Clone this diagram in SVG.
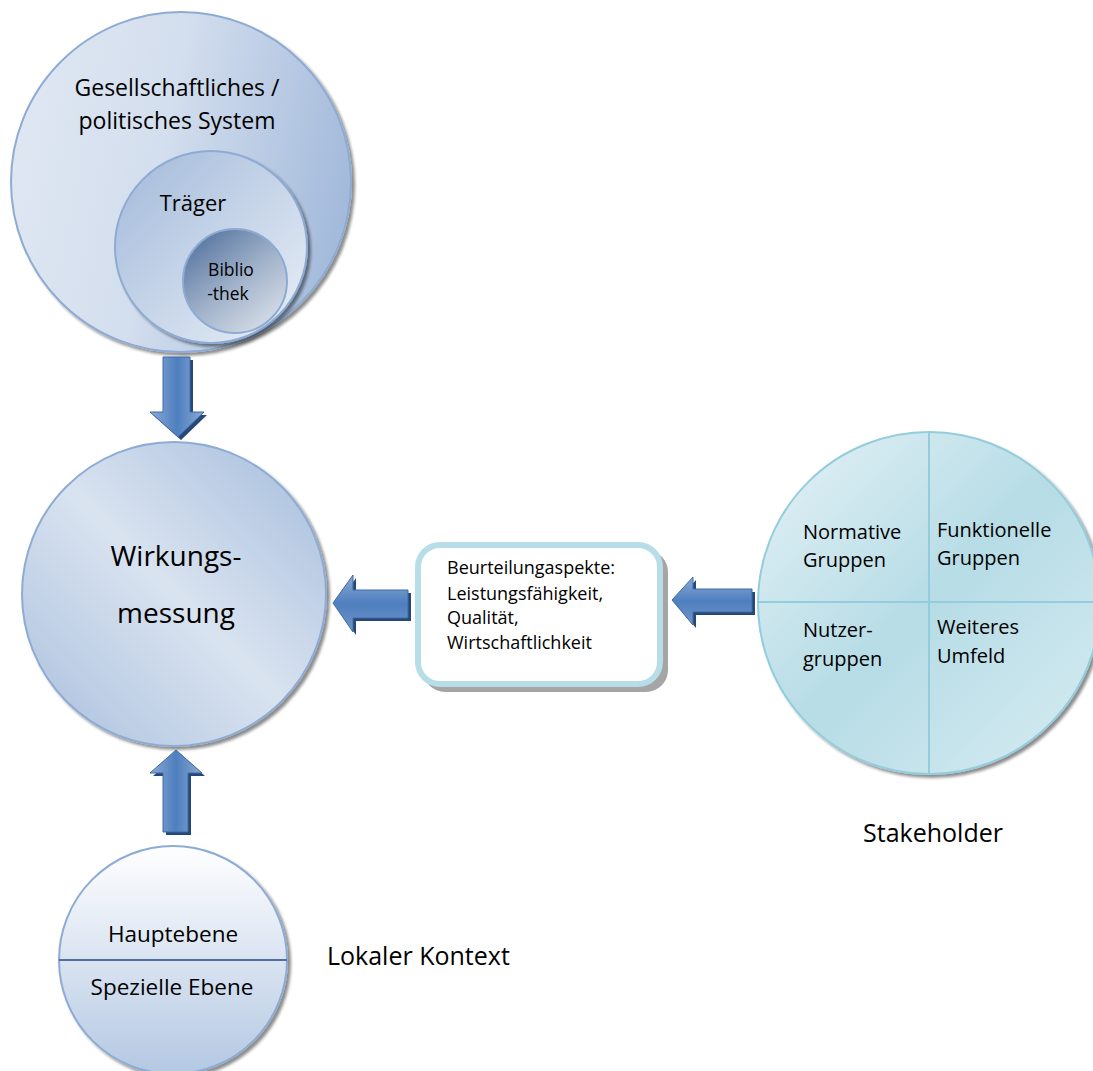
<svg xmlns="http://www.w3.org/2000/svg" width="1093" height="1071" viewBox="0 0 1093 1071">
<defs>
<linearGradient id="gBig" x1="0" y1="0.3" x2="1" y2="0.5">
<stop offset="0" stop-color="#dfe7f2"/><stop offset="0.45" stop-color="#d3deee"/><stop offset="1" stop-color="#a3badb"/>
</linearGradient>
<linearGradient id="gTr" x1="0" y1="0" x2="1" y2="1">
<stop offset="0" stop-color="#a2b9da"/><stop offset="1" stop-color="#eaf0f7"/>
</linearGradient>
<linearGradient id="gBib" x1="0.1" y1="0" x2="0.9" y2="1">
<stop offset="0" stop-color="#4f6e9c"/><stop offset="0.5" stop-color="#9eb0c8"/><stop offset="1" stop-color="#dfe4ec"/>
</linearGradient>
<linearGradient id="gWir" x1="1" y1="0" x2="0" y2="1">
<stop offset="0" stop-color="#a4bcdc"/><stop offset="0.5" stop-color="#d9e3f0"/><stop offset="1" stop-color="#a9bfdd"/>
</linearGradient>
<linearGradient id="gLok" x1="0" y1="0" x2="0" y2="1">
<stop offset="0" stop-color="#ffffff"/><stop offset="1" stop-color="#b4c8e3"/>
</linearGradient>
<linearGradient id="gSt" x1="0" y1="0" x2="1" y2="1">
<stop offset="0" stop-color="#e6f2f6"/><stop offset="0.5" stop-color="#b6dce6"/><stop offset="1" stop-color="#d8ecf2"/>
</linearGradient>
<linearGradient id="gArV" x1="0" y1="0" x2="1" y2="0">
<stop offset="0" stop-color="#8aaad4"/><stop offset="0.5" stop-color="#4f7fbf"/><stop offset="1" stop-color="#8aaad4"/>
</linearGradient>
<linearGradient id="gArH" x1="0" y1="0" x2="0" y2="1">
<stop offset="0" stop-color="#8aaad4"/><stop offset="0.5" stop-color="#4f7fbf"/><stop offset="1" stop-color="#6f94c8"/>
</linearGradient>
<filter id="sh" x="-10%" y="-10%" width="130%" height="130%">
<feGaussianBlur in="SourceAlpha" stdDeviation="1.5"/>
<feOffset dx="3" dy="3" result="b"/>
<feComponentTransfer><feFuncA type="linear" slope="0.45"/></feComponentTransfer>
<feMerge><feMergeNode/><feMergeNode in="SourceGraphic"/></feMerge>
</filter>
</defs>
<style>
text{font-family:"Open Sans","Noto Sans","Liberation Sans",sans-serif;fill:#000}
.c{stroke:#8dabd3;stroke-width:2}
.arr-sh{fill:#274877}
</style>
<rect width="1093" height="1071" fill="#fff"/>

<g id="system">
<circle cx="181" cy="182" r="170" fill="url(#gBig)" class="c" filter="url(#sh)"/>
<text x="177" y="96" font-size="23" text-anchor="middle">Gesellschaftliches /</text>
<text x="177" y="129" font-size="23" text-anchor="middle">politisches System</text>
</g>
<g id="traeger">
<circle cx="211" cy="247" r="96" fill="url(#gTr)" class="c" filter="url(#sh)"/>
<text x="193" y="211" font-size="22" text-anchor="middle">Träger</text>
</g>
<g id="bibliothek">
<circle cx="235" cy="281" r="52" fill="url(#gBib)" class="c"/>
<text x="231" y="276" font-size="17.5" text-anchor="middle">Biblio</text>
<text x="228" y="300" font-size="17.5" text-anchor="middle">-thek</text>
</g>

<g id="wirkungsmessung">
<circle cx="174" cy="594" r="152" fill="url(#gWir)" class="c" filter="url(#sh)"/>
<text x="176" y="566" font-size="28" text-anchor="middle">Wirkungs-</text>
<text x="176" y="623" font-size="28" text-anchor="middle">messung</text>
</g>

<g id="beurteilung">
<rect x="418" y="545" width="245" height="142" rx="22" fill="#7f7f7f" opacity="0.7" transform="translate(5,5)"/>
<rect x="418" y="545" width="242" height="139" rx="22" fill="#fff" stroke="#b6dde8" stroke-width="6"/>
<text x="447" y="574" font-size="18">Beurteilungaspekte:</text>
<text x="447" y="600" font-size="18">Leistungsfähigkeit,</text>
<text x="447" y="624" font-size="18">Qualität,</text>
<text x="447" y="649" font-size="18">Wirtschaftlichkeit</text>
</g>

<g id="stakeholder">
<circle cx="929" cy="603" r="171" fill="url(#gSt)" stroke="#93cddd" stroke-width="2" filter="url(#sh)"/>
<line x1="929" y1="432" x2="929" y2="774" stroke="#93cddd" stroke-width="2"/>
<line x1="758" y1="602" x2="1100" y2="602" stroke="#93cddd" stroke-width="2"/>
<text x="803" y="539" font-size="20">Normative</text>
<text x="803" y="567" font-size="20">Gruppen</text>
<text x="937" y="537" font-size="20">Funktionelle</text>
<text x="937" y="565" font-size="20">Gruppen</text>
<text x="803" y="637" font-size="20">Nutzer-</text>
<text x="803" y="666" font-size="20">gruppen</text>
<text x="937" y="634" font-size="20">Weiteres</text>
<text x="937" y="663" font-size="20">Umfeld</text>
<text x="933" y="842" font-size="25" text-anchor="middle">Stakeholder</text>
</g>

<g id="lokal">
<circle cx="173" cy="960" r="114" fill="url(#gLok)" class="c" filter="url(#sh)"/>
<line x1="59" y1="960" x2="287" y2="960" stroke="#4f6f9f" stroke-width="2"/>
<text x="173" y="942" font-size="22.5" text-anchor="middle">Hauptebene</text>
<text x="172" y="995" font-size="22.5" text-anchor="middle">Spezielle Ebene</text>
<text x="327" y="965" font-size="25">Lokaler Kontext</text>
</g>

<g id="connectors">
<path class="arr-sh" d="M166 360 H193 V415 H207 L181 440 L153 415 H166 Z"/>
<path d="M163 357 H190 V412 H204 L178 437 L150 412 H163 Z" fill="url(#gArV)" stroke="#3f6aa6" stroke-width="1"/>
<path class="arr-sh" d="M166 835 H191 V776 H205 L179 753 L153 776 H166 Z"/>
<path d="M163 832 H188 V773 H202 L176 750 L150 773 H163 Z" fill="url(#gArV)" stroke="#3f6aa6" stroke-width="1"/>
<path class="arr-sh" d="M411 593 V621 H356 V635 L336 606 L356 578 V593 Z"/>
<path d="M408 590 V618 H353 V632 L333 603 L353 575 V590 Z" fill="url(#gArH)" stroke="#3f6aa6" stroke-width="1"/>
<path class="arr-sh" d="M755 592 V615 H696 V628 L675 603 L696 580 V592 Z"/>
<path d="M752 589 V612 H693 V625 L672 600 L693 577 V589 Z" fill="url(#gArH)" stroke="#3f6aa6" stroke-width="1"/>
</g>
</svg>
